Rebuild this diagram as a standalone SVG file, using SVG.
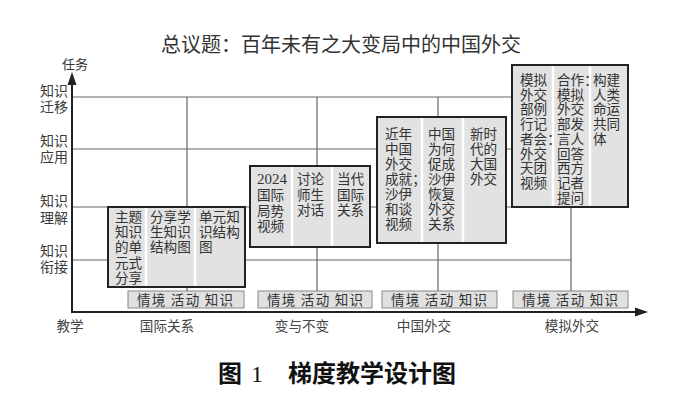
<svg xmlns="http://www.w3.org/2000/svg" width="700" height="414" viewBox="0 0 700 414">
<style>
text{font-family:"Noto Sans CJK SC","Noto Sans",sans-serif;fill:#333}
.grid{stroke:#666;stroke-width:1.2;fill:none}
.axis{stroke:#222;stroke-width:2;fill:none}
.box{fill:#e2e2e2;stroke:#222;stroke-width:2}
.sep{stroke:#fff;stroke-width:2.5}
.bt{font-size:13.6px}
.lab{fill:#e0e0e0;stroke:#888;stroke-width:1}
.lt{font-size:13.5px}
.yl{font-size:14px;fill:#3a3a3a}
.xl{font-size:13.6px;fill:#444;text-anchor:middle}
</style>
<rect width="700" height="414" fill="#fff"/>
<text x="341" y="52" font-size="20" text-anchor="middle">总议题：百年未有之大变局中的中国外交</text>
<g id="grid">
<line class="grid" x1="72" y1="97" x2="512" y2="97"/>
<line class="grid" x1="72" y1="149" x2="512" y2="149"/>
<line class="grid" x1="72" y1="207" x2="512" y2="207"/>
<line class="grid" x1="72" y1="260" x2="571" y2="260"/>
</g>
<g id="connectors">
<line class="grid" x1="187" y1="97" x2="187" y2="291"/>
<line class="grid" x1="317" y1="97" x2="317" y2="291"/>
<line class="grid" x1="438" y1="97" x2="438" y2="291"/>
<line class="grid" x1="571" y1="97" x2="571" y2="291"/>
</g>
<g id="axes">
<line class="axis" x1="72" y1="312" x2="72" y2="82"/>
<polygon points="72,72 67.5,85 76.5,85" fill="#222"/>
<line class="axis" x1="71" y1="312" x2="638" y2="312"/>
<polygon points="648,312 635,307.5 635,316.5" fill="#222"/>
<text x="62" y="69" font-size="13">任务</text>
<text class="yl" x="40" y="96">知识</text><text class="yl" x="40" y="112">迁移</text>
<text class="yl" x="40" y="146">知识</text><text class="yl" x="40" y="162">应用</text>
<text class="yl" x="40" y="206">知识</text><text class="yl" x="40" y="223">理解</text>
<text class="yl" x="40" y="256">知识</text><text class="yl" x="40" y="272">衔接</text>
<text class="xl" x="70" y="331">教学</text>
<text class="xl" x="167" y="331">国际关系</text>
<text class="xl" x="302" y="331">变与不变</text>
<text class="xl" x="424" y="331">中国外交</text>
<text class="xl" x="572" y="331">模拟外交</text>
</g>
<g id="node1">
<rect class="box" x="108" y="207" width="137" height="80"/>
<line class="sep" x1="146" y1="208" x2="146" y2="286"/>
<line class="sep" x1="195" y1="208" x2="195" y2="286"/>
<text class="bt" x="115" y="222"><tspan x="115">主题</tspan><tspan x="115" dy="15.2">知识</tspan><tspan x="115" dy="15.2">的单</tspan><tspan x="115" dy="15.2">元式</tspan><tspan x="115" dy="15.2">分享</tspan></text>
<text class="bt" x="150" y="222"><tspan x="150">分享学</tspan><tspan x="150" dy="15.2">生知识</tspan><tspan x="150" dy="15.2">结构图</tspan></text>
<text class="bt" x="199" y="222"><tspan x="199">单元知</tspan><tspan x="199" dy="15.2">识结构</tspan><tspan x="199" dy="15.2">图</tspan></text>
</g>
<g id="node2">
<rect class="box" x="250" y="166" width="120" height="81"/>
<line class="sep" x1="292" y1="167" x2="292" y2="246"/>
<line class="sep" x1="332" y1="167" x2="332" y2="246"/>
<text x="257" y="184" font-size="15" style="font-family:'Liberation Serif',serif">2024</text>
<text class="bt" x="257" y="200"><tspan x="257">国际</tspan><tspan x="257" dy="15.6">局势</tspan><tspan x="257" dy="15.6">视频</tspan></text>
<text class="bt" x="297" y="184"><tspan x="297">讨论</tspan><tspan x="297" dy="15.6">师生</tspan><tspan x="297" dy="15.6">对话</tspan></text>
<text class="bt" x="337" y="184"><tspan x="337">当代</tspan><tspan x="337" dy="15.6">国际</tspan><tspan x="337" dy="15.6">关系</tspan></text>
</g>
<g id="node3">
<rect class="box" x="377" y="117" width="129" height="126"/>
<line class="sep" x1="422" y1="118" x2="422" y2="242"/>
<line class="sep" x1="463" y1="118" x2="463" y2="242"/>
<text class="bt" x="385" y="139"><tspan x="385">近年</tspan><tspan x="385" dy="15">中国</tspan><tspan x="385" dy="15">外交</tspan><tspan x="385" dy="15">成就；</tspan><tspan x="385" dy="15">沙伊</tspan><tspan x="385" dy="15">和谈</tspan><tspan x="385" dy="15">视频</tspan></text>
<text class="bt" x="428" y="139"><tspan x="428">中国</tspan><tspan x="428" dy="15">为何</tspan><tspan x="428" dy="15">促成</tspan><tspan x="428" dy="15">沙伊</tspan><tspan x="428" dy="15">恢复</tspan><tspan x="428" dy="15">外交</tspan><tspan x="428" dy="15">关系</tspan></text>
<text class="bt" x="470" y="139"><tspan x="470">新时</tspan><tspan x="470" dy="15">代的</tspan><tspan x="470" dy="15">大国</tspan><tspan x="470" dy="15">外交</tspan></text>
</g>
<g id="node4">
<rect class="box" x="512" y="65" width="116" height="142"/>
<line class="sep" x1="553" y1="66" x2="553" y2="206"/>
<line class="sep" x1="590" y1="66" x2="590" y2="206"/>
<text class="bt" x="520" y="85"><tspan x="520">模拟</tspan><tspan x="520" dy="14.7">外交</tspan><tspan x="520" dy="14.7">部例</tspan><tspan x="520" dy="14.7">行记</tspan><tspan x="520" dy="14.7">者会：</tspan><tspan x="520" dy="14.7">外交</tspan><tspan x="520" dy="14.7">天团</tspan><tspan x="520" dy="14.7">视频</tspan></text>
<text class="bt" x="557" y="85"><tspan x="557">合作：</tspan><tspan x="557" dy="14.7">模拟</tspan><tspan x="557" dy="14.7">外交</tspan><tspan x="557" dy="14.7">部发</tspan><tspan x="557" dy="14.7">言人</tspan><tspan x="557" dy="14.7">回答</tspan><tspan x="557" dy="14.7">西方</tspan><tspan x="557" dy="14.7">记者</tspan><tspan x="557" dy="14.7">提问</tspan></text>
<text class="bt" x="593" y="85"><tspan x="593">构建</tspan><tspan x="593" dy="14.7">人类</tspan><tspan x="593" dy="14.7">命运</tspan><tspan x="593" dy="14.7">共同</tspan><tspan x="593" dy="14.7">体</tspan></text>
</g>
<g id="label1"><rect class="lab" x="128" y="291" width="116" height="17"/><text class="lt" x="137" y="304.5" textLength="96" lengthAdjust="spacing">情境 活动 知识</text></g>
<g id="label2"><rect class="lab" x="258" y="291" width="114" height="17"/><text class="lt" x="267" y="304.5" textLength="96" lengthAdjust="spacing">情境 活动 知识</text></g>
<g id="label3"><rect class="lab" x="382" y="291" width="115" height="17"/><text class="lt" x="391" y="304.5" textLength="96" lengthAdjust="spacing">情境 活动 知识</text></g>
<g id="label4"><rect class="lab" x="513" y="291" width="115" height="17"/><text class="lt" x="522" y="304.5" textLength="96" lengthAdjust="spacing">情境 活动 知识</text></g>
<g id="caption">
<text x="218" y="382" font-size="24" font-weight="bold" style="fill:#111">图</text>
<text x="251" y="382" font-size="24" style="font-family:'Liberation Serif',serif;fill:#111">1</text>
<text x="288" y="382" font-size="24" font-weight="bold" style="fill:#111">梯度教学设计图</text>
</g>
</svg>
